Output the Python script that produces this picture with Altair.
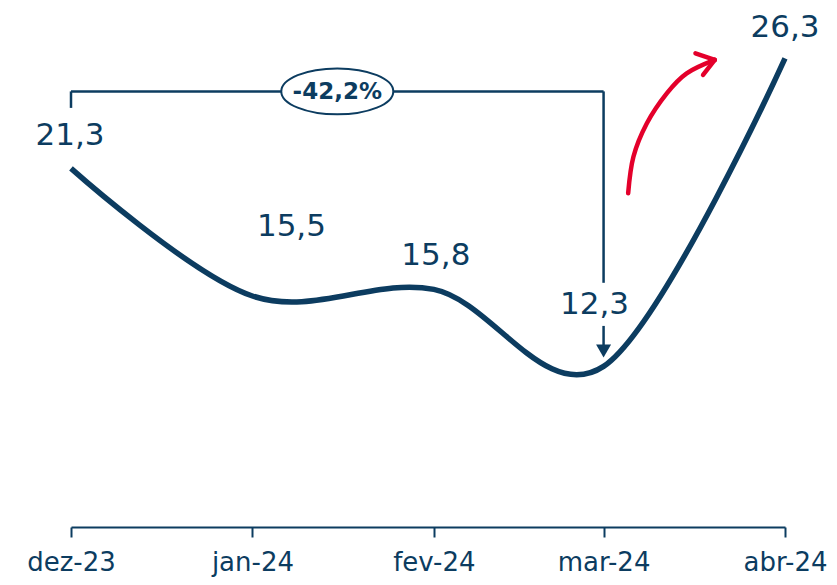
import altair as alt
import pandas as pd

NAVY = "#0c3c60"
RED = "#e4002b"
FONT = "DejaVu Sans"

# ---- data ----
months = ["dez-23", "jan-24", "fev-24", "mar-24", "abr-24"]
dates = ["2023-12-01", "2024-01-01", "2024-02-01", "2024-03-01", "2024-04-01"]
values = [21.3, 15.5, 15.8, 12.3, 26.3]
value_labels = ["21,3", "15,5", "15,8", "12,3", "26,3"]
change_label = "-42,2%"

# bracket annotation (value levels)
bracket_level = 24.8
bracket_left_end = 24.05
bracket_right_end = 16.1
arrow_stem = [14.14, 13.25]
arrow_head_val = 13.0

# red trend arrow (days after first month, value)
red_days = [95.2, 96.1, 98.4, 101.8, 105.2, 110.0]
red_vals = [20.17, 21.83, 23.35, 24.71, 25.62, 26.23]
red_head_days = [106.7, 108.0]
red_head_vals = [26.53, 25.55]

start = pd.Timestamp(dates[0])
days = [(pd.Timestamp(d) - start).days for d in dates]

df = pd.DataFrame({"day": days, "value": values, "label": value_labels, "month": months})

xs = alt.Scale(domain=[days[0], days[-1]], nice=False, zero=False)
ys = alt.Scale(domain=[5, 27], nice=False, zero=False)

label_expr = "[" + ",".join("'%s'" % m for m in months) + "][indexof([" + ",".join(str(d) for d in days) + "], datum.value)]"

xaxis = alt.Axis(values=days, labelExpr=label_expr, grid=False, domainColor=NAVY, domainWidth=2,
                 tickColor=NAVY, tickWidth=2, tickSize=10, labelFont=FONT, labelFontSize=26,
                 labelColor=NAVY, labelPadding=12, title=None, labelFlush=False, labelOverlap=False)

base = alt.Chart(df)

line = base.mark_line(interpolate="cardinal", strokeWidth=5.5, color=NAVY).encode(
    x=alt.X("day:Q", scale=xs, axis=xaxis),
    y=alt.Y("value:Q", scale=ys, axis=None),
)

# label offsets (style)
offsets = [(-1, -32), (39, -69), (2, -33), (-9, -61), (0, -30)]
labels = []
for i, (dx, dy) in enumerate(offsets):
    labels.append(
        alt.Chart(df.iloc[[i]]).mark_text(dx=dx, dy=dy, fontSize=31, font=FONT, color=NAVY,
                                          baseline="middle", align="center").encode(
            x=alt.X("day:Q", scale=xs), y=alt.Y("value:Q", scale=ys), text="label:N")
    )

# bracket
bdf = pd.DataFrame({
    "x": [days[0], days[0], days[3], days[3]],
    "x2": [days[3], days[0], days[3], days[3]],
    "y": [bracket_level, bracket_level, bracket_level, arrow_stem[0]],
    "y2": [bracket_level, bracket_left_end, bracket_right_end, arrow_stem[1]],
})
bracket = alt.Chart(bdf).mark_rule(color=NAVY, strokeWidth=2.5).encode(
    x=alt.X("x:Q", scale=xs), x2="x2:Q", y=alt.Y("y:Q", scale=ys), y2="y2:Q")

tri_path = "M -1 -0.87 L 1 -0.87 L 0 0.87 Z"
head = alt.Chart(pd.DataFrame({"x": [days[3]], "y": [arrow_head_val]})).mark_point(
    shape=tri_path, size=225, filled=True, color=NAVY, opacity=1).encode(
    x=alt.X("x:Q", scale=xs), y=alt.Y("y:Q", scale=ys))

ell_path = ("M -1 0 C -1 -0.2264 -0.5523 -0.41 0 -0.41 C 0.5523 -0.41 1 -0.2264 1 0 "
            "C 1 0.2264 0.5523 0.41 0 0.41 C -0.5523 0.41 -1 0.2264 -1 0 Z")
edf = pd.DataFrame({"x": [(days[0] + days[3]) / 2], "y": [bracket_level], "t": [change_label]})
ellipse = alt.Chart(edf).mark_point(shape=ell_path, size=112 * 112, filled=False, fill="white",
                                    fillOpacity=1, stroke=NAVY, strokeWidth=2, opacity=1).encode(
    x=alt.X("x:Q", scale=xs), y=alt.Y("y:Q", scale=ys))
etext = alt.Chart(edf).mark_text(font=FONT, fontSize=23, fontWeight="bold", color=NAVY,
                                 baseline="middle", align="center", dy=1).encode(
    x=alt.X("x:Q", scale=xs), y=alt.Y("y:Q", scale=ys), text="t:N")

# red arrow
rdf = pd.DataFrame({"x": red_days, "y": red_vals})
red_line = alt.Chart(rdf).mark_line(interpolate="cardinal", color=RED, strokeWidth=4.5,
                                    strokeCap="round").encode(
    x=alt.X("x:Q", scale=xs), y=alt.Y("y:Q", scale=ys))
rhdf = pd.DataFrame({"x": red_head_days, "y": red_head_vals,
                     "x2": [red_days[-1]] * 2, "y2": [red_vals[-1]] * 2})
red_head = alt.Chart(rhdf).mark_rule(color=RED, strokeWidth=4.5, strokeCap="round").encode(
    x=alt.X("x:Q", scale=xs), y=alt.Y("y:Q", scale=ys), x2="x2:Q", y2="y2:Q")

chart = alt.layer(line, bracket, head, ellipse, etext, red_line, red_head, *labels).properties(
    width=714, height=484,
    padding={"left": 63, "top": 35, "right": 44, "bottom": 50},
    autosize=alt.AutoSizeParams(type="none"),
).configure_view(stroke=None)

chart.save("out.html", embed_options={"renderer": "svg", "actions": False})
